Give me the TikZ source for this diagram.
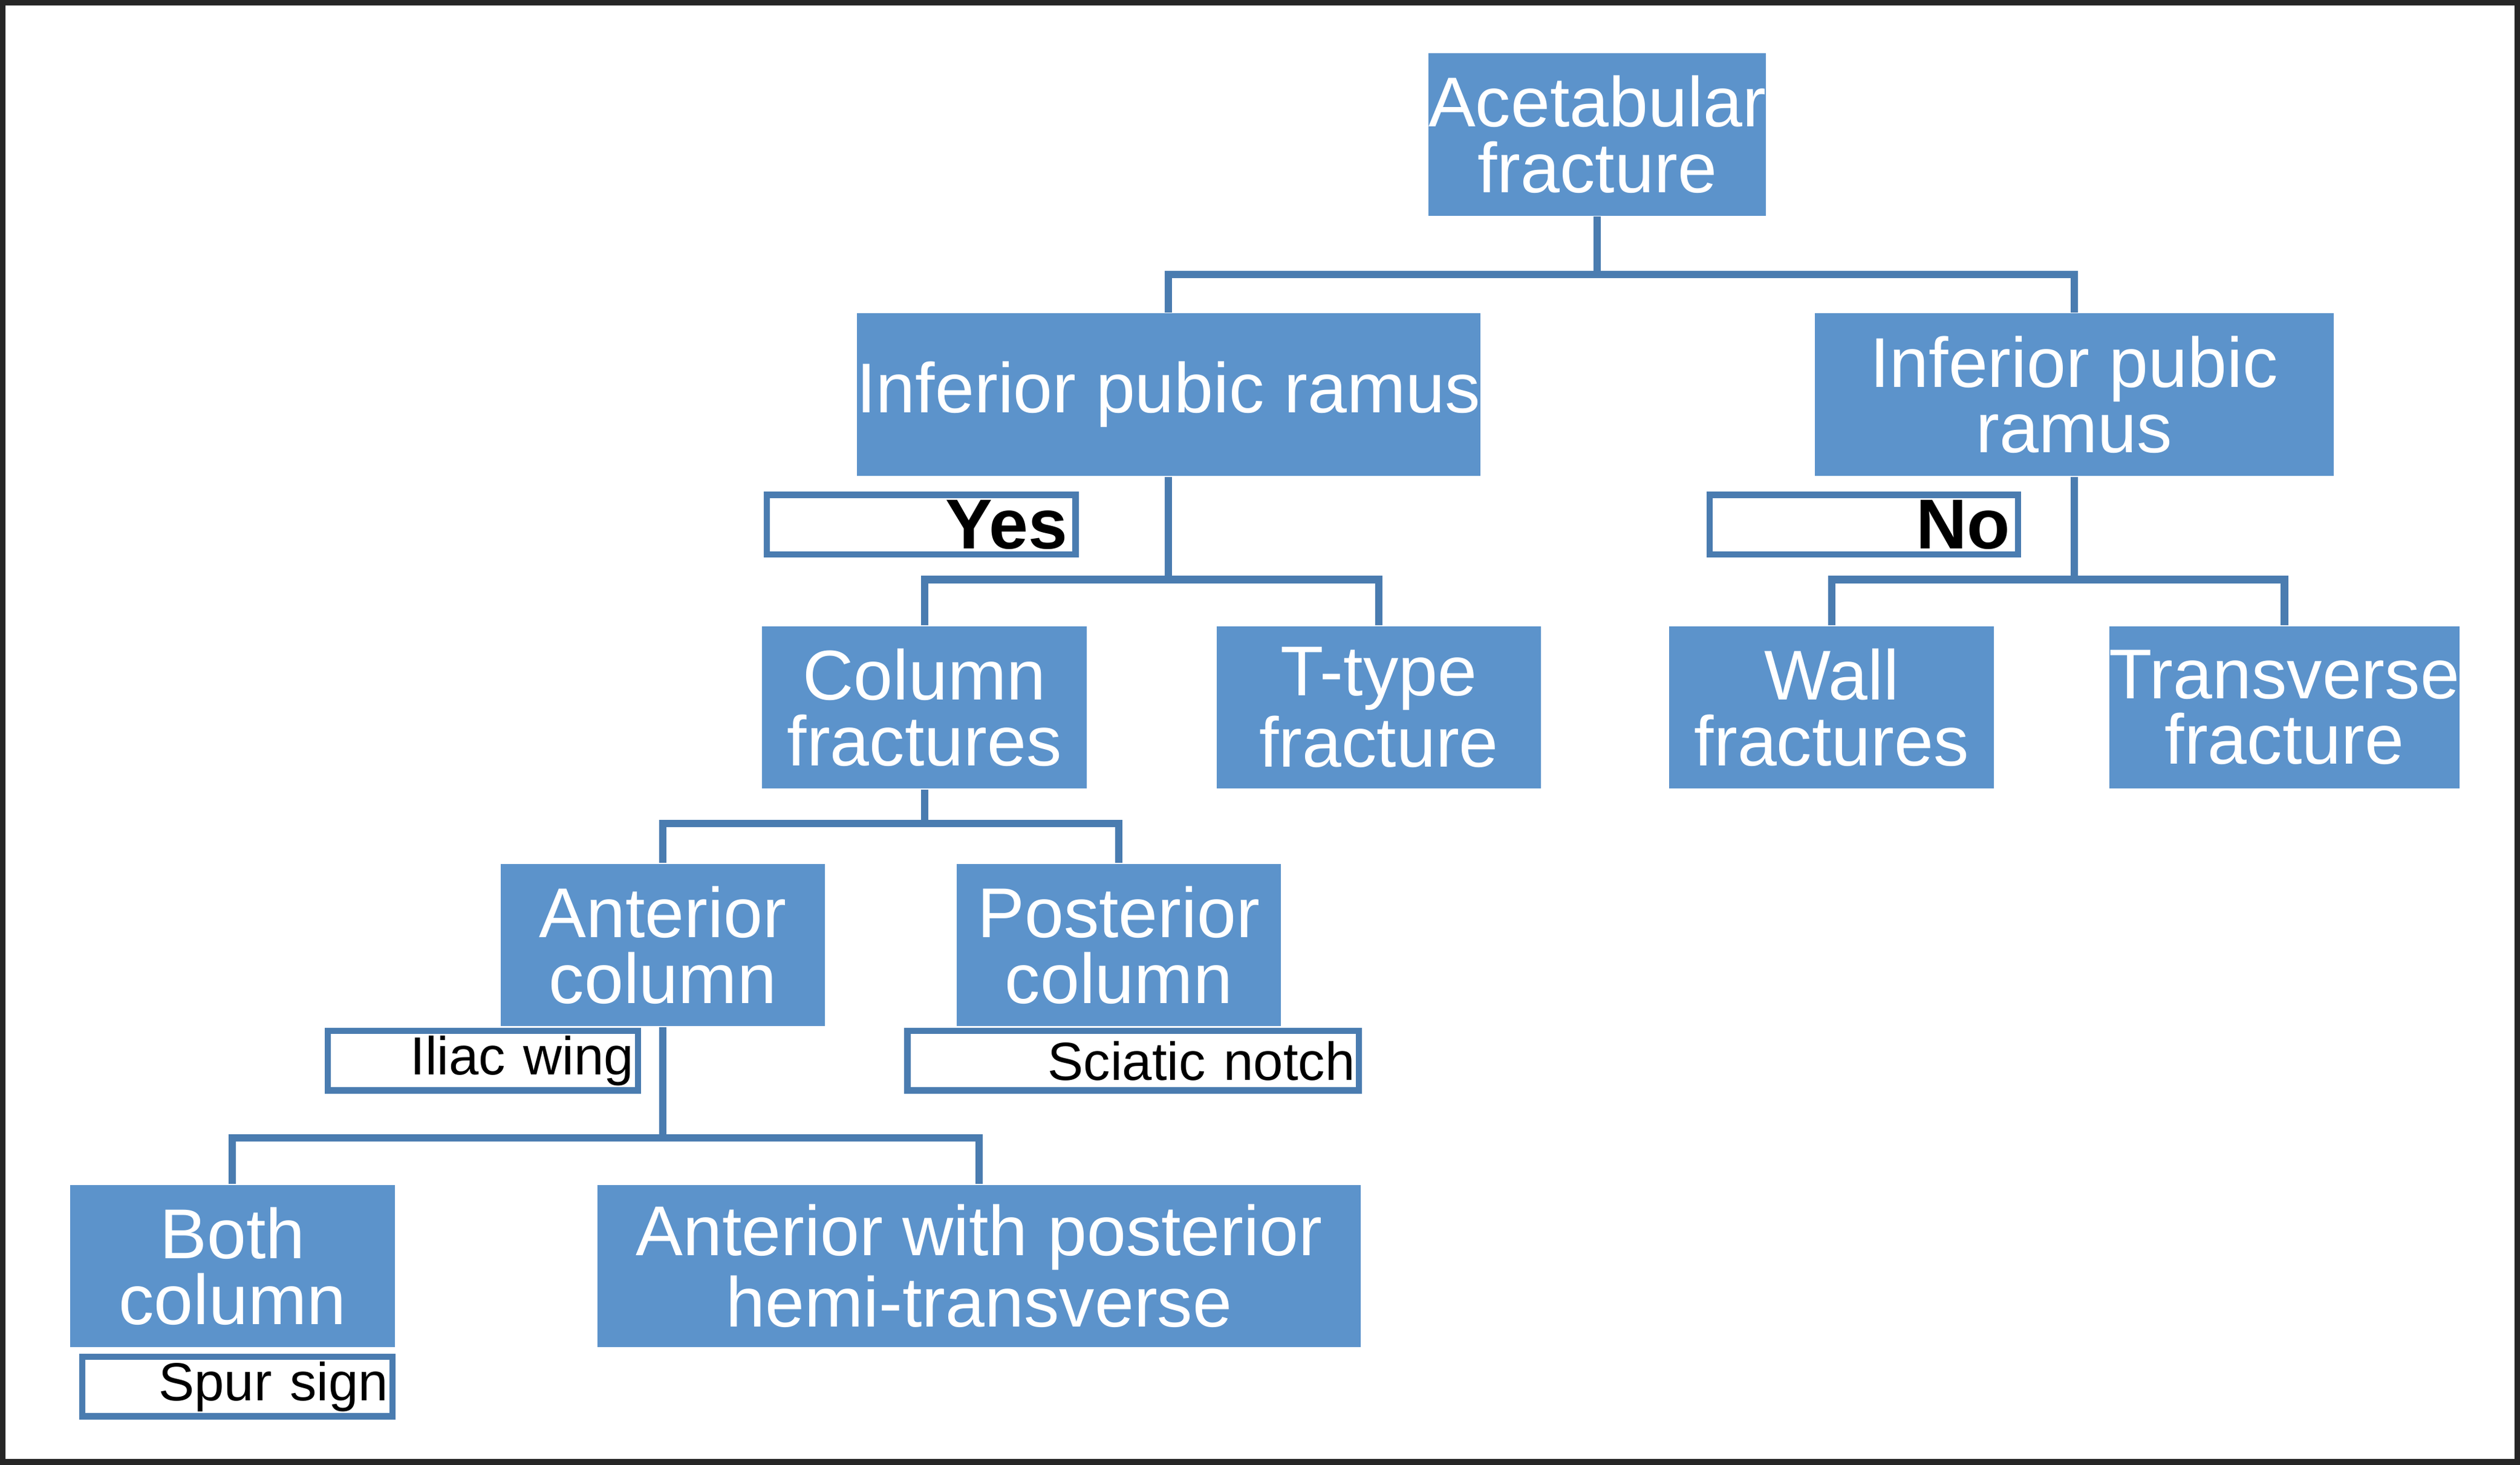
\documentclass[tikz,border=0pt]{standalone}
\usepackage{fontspec}
\setmainfont{Liberation Sans}
\begin{document}
\begin{tikzpicture}[x=0.01cm,y=-0.01cm,
  box/.style={fill=boxblue,draw=none,text=white,align=center,minimum width=2.02cm,minimum height=1.01cm,inner sep=0pt,font=\fontsize{12.5}{11.6}\selectfont},
  lab/.style={draw=lineblue,line width=1.1pt,fill=white,minimum height=0.37cm,inner sep=0pt,align=right,text=black},
  con/.style={draw=lineblue,line width=1.3pt}]
\definecolor{boxblue}{HTML}{5C93CB}
\definecolor{lineblue}{HTML}{4A7CB0}
\draw[line width=1pt,draw=black!85] (1,1) rectangle (1567,910);
\useasboundingbox (0,0) rectangle (1568,911);
\node[box] (acet) at (994,83) {Acetabular\\fracture};
\node[box,minimum width=3.45cm] (ipl) at (727,245) {Inferior pubic ramus};
\node[box,minimum width=3.23cm] (ipr) at (1291,245) {Inferior pubic\\ramus};
\node[box] (col) at (575,440) {Column\\fractures};
\node[box] (tt) at (858,440) {T-type\\fracture};
\node[box] (wall) at (1140,440) {Wall\\fractures};
\node[box] (tr) at (1422,440) {Transverse\\fracture};
\node[box] (ant) at (412,588) {Anterior\\column};
\node[box] (post) at (696,588) {Posterior\\column};
\node[box] (both) at (144,788) {Both\\column};
\node[box,minimum width=4.75cm] (awp) at (609,788) {Anterior with posterior\\hemi-transverse};
\node[lab,minimum width=1.92cm,text width=1.82cm,font=\fontsize{12.5}{14}\selectfont\bfseries] (yes) at (573,326) {Yes};
\node[lab,minimum width=1.92cm,text width=1.82cm,font=\fontsize{12.5}{14}\selectfont\bfseries] (no) at (1160,326) {No};
\node[lab,minimum width=1.93cm,text width=1.88cm,font=\fontsize{9.5}{11}\selectfont] (iliac) at (300,660) {Iliac wing};
\node[lab,minimum width=2.81cm,text width=2.76cm,font=\fontsize{9.5}{11}\selectfont] (sci) at (705,660) {Sciatic notch};
\node[lab,minimum width=1.93cm,text width=1.88cm,font=\fontsize{9.5}{11}\selectfont] (spur) at (147,863) {Spur sign};
\draw[con] (acet.south) -- ++(0,36) coordinate (j1);
\draw[con] (ipl.north) |- (j1) -| (ipr.north);
\draw[con] (ipl.south) -- ++(0,64) coordinate (j2);
\draw[con] (col.north) |- (j2) -| (tt.north);
\draw[con] (ipr.south) -- ++(0,64) coordinate (j3);
\draw[con] (wall.north) |- (j3) -| (tr.north);
\draw[con] (col.south) -- ++(0,21) coordinate (j4);
\draw[con] (ant.north) |- (j4) -| (post.north);
\draw[con] (ant.south) -- ++(0,69) coordinate (j5);
\draw[con] (both.north) |- (j5) -| (awp.north);
\end{tikzpicture}
\end{document}
